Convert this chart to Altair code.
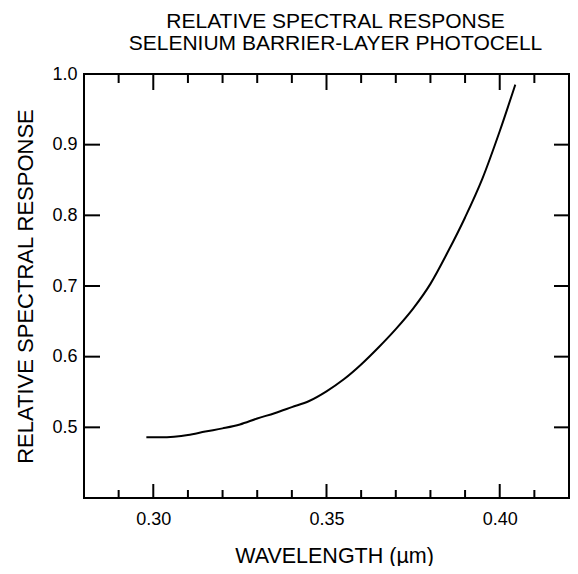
import altair as alt
import pandas as pd

# Curve
wavelength = [0.298, 0.302, 0.306, 0.310, 0.315, 0.320, 0.325, 0.330, 0.335,
              0.340, 0.345, 0.350, 0.355, 0.360, 0.365, 0.370, 0.375, 0.380,
              0.385, 0.390, 0.395, 0.400, 0.4045]
response = [0.486, 0.486, 0.4868, 0.489, 0.494, 0.4985, 0.504, 0.5125, 0.520,
            0.5286, 0.5373, 0.551, 0.568, 0.589, 0.613, 0.639, 0.668, 0.703,
            0.748, 0.797, 0.852, 0.919, 0.985]

x_major = [0.30, 0.35, 0.40]
x_minor = [0.29, 0.31, 0.32, 0.33, 0.34, 0.36, 0.37, 0.38, 0.39, 0.41]
y_major = [0.5, 0.6, 0.7, 0.8, 0.9]
y_labels = [0.5, 0.6, 0.7, 0.8, 0.9, 1.0]

W, H = 485, 424
FONT = "Liberation Sans"

xs = alt.Scale(domain=[0.28, 0.42], nice=False, zero=False)
ys = alt.Scale(domain=[0.4, 1.0], nice=False, zero=False)

curve_df = pd.DataFrame({"wl": wavelength, "r": response})
xmaj_df = pd.DataFrame({"t": x_major})
xmin_df = pd.DataFrame({"t": x_minor})
ymaj_df = pd.DataFrame({"t": y_major})

curve = alt.Chart(curve_df).mark_line(color="black", strokeWidth=2, interpolate="monotone").encode(
    x=alt.X("wl:Q", scale=xs, axis=alt.Axis(
        values=x_major, format=".2f", ticks=False, domain=False, grid=False,
        labelFontSize=18, labelPadding=12, labelColor="black",
        title="WAVELENGTH (µm)", titleFontSize=21.5, titleFontWeight="normal",
        titleX=250, titleY=64, titleBaseline="alphabetic", titleAlign="center",
        titleColor="black")),
    y=alt.Y("r:Q", scale=ys, axis=alt.Axis(
        values=y_labels, format=".1f", ticks=False, domain=False, grid=False,
        labelFontSize=18, labelPadding=7, labelColor="black",
        title="RELATIVE SPECTRAL RESPONSE", titleFontSize=22, titleFontWeight="normal",
        titleX=-52, titleY=212, titleAngle=270, titleBaseline="alphabetic",
        titleAlign="center", titleColor="black")),
)

rule_style = dict(color="black", strokeWidth=2)

bot_major = alt.Chart(xmaj_df).mark_rule(**rule_style).encode(
    x=alt.X("t:Q", scale=xs, axis=None), y=alt.value(H), y2=alt.value(H - 14))
top_major = alt.Chart(xmaj_df).mark_rule(**rule_style).encode(
    x=alt.X("t:Q", scale=xs, axis=None), y=alt.value(0), y2=alt.value(16))
bot_minor = alt.Chart(xmin_df).mark_rule(**rule_style).encode(
    x=alt.X("t:Q", scale=xs, axis=None), y=alt.value(H), y2=alt.value(H - 8))
top_minor = alt.Chart(xmin_df).mark_rule(**rule_style).encode(
    x=alt.X("t:Q", scale=xs, axis=None), y=alt.value(0), y2=alt.value(9))
left_major = alt.Chart(ymaj_df).mark_rule(**rule_style).encode(
    y=alt.Y("t:Q", scale=ys, axis=None), x=alt.value(0), x2=alt.value(16))
right_major = alt.Chart(ymaj_df).mark_rule(**rule_style).encode(
    y=alt.Y("t:Q", scale=ys, axis=None), x=alt.value(W), x2=alt.value(W - 15))

chart = alt.layer(
    curve, bot_major, top_major, bot_minor, top_minor, left_major, right_major
).resolve_axis(
    x="independent", y="independent"
).properties(
    width=W, height=H, background="white",
    title=alt.TitleParams(
        text=["RELATIVE SPECTRAL RESPONSE", "SELENIUM BARRIER-LAYER PHOTOCELL"],
        fontSize=21, fontWeight="normal", font=FONT, color="black",
        anchor="middle", lineHeight=22, offset=11, frame="group", dx=9),
    autosize=alt.AutoSizeParams(type="none"),
    padding={"left": 76, "top": 66, "right": 1, "bottom": 68},
).configure_view(
    stroke="black", strokeWidth=2
).configure_axis(
    labelFont=FONT, titleFont=FONT
)

chart.save("out.html", embed_options={"renderer": "svg", "actions": False})
